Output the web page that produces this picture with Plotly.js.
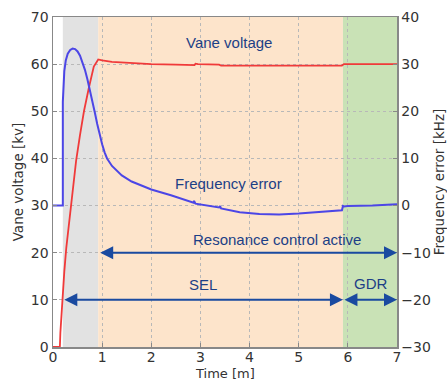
<!DOCTYPE html>
<html><head><meta charset="utf-8">
<script src="https://cdn.plot.ly/plotly-3.0.1.min.js"></script>
<style>html,body{margin:0;padding:0;background:#fff}#c{width:447px;height:380px}</style>
</head><body><div id="c"></div>
<script>
// Vane voltage [kV] (left axis)
const voltT = [0,0.14,0.15,0.17,0.2,0.23,0.27,0.32,0.37,0.42,0.47,0.55,0.63,0.73,0.83,0.92,1.0,1.2,1.5,2.0,2.5,2.88,2.9,2.95,3.38,3.42,4.0,5.0,5.88,5.92,6.5,7.0];
const voltV = [0,0,3,7,11,16,21,26,30,35,39.5,45,50,55,59.5,61,60.8,60.5,60.3,60.0,59.9,59.8,60.1,60.0,59.9,59.7,59.7,59.7,59.7,60.0,60.0,60.0];
// Frequency error [kHz] (right axis)
const freqT = [0,0.2,0.2,0.21,0.23,0.26,0.3,0.35,0.4,0.45,0.5,0.55,0.6,0.65,0.7,0.75,0.8,0.85,0.9,0.95,1.0,1.05,1.1,1.2,1.3,1.4,1.6,1.8,2.0,2.4,2.86,2.87,2.9,3.38,3.4,3.42,3.8,4.2,4.6,5.0,5.5,5.88,5.9,5.92,6.0,6.5,7.0];
const freqV = [0,0,22,25.5,28.5,30.8,32.2,33,33.3,33.2,32.7,31.8,30.5,28.8,26.8,24.6,22.2,19.8,17.3,15,13,11.3,10,8.4,7.3,6.4,5.1,4.2,3.4,2.2,0.6,1.0,0.4,-0.4,-0.1,-0.6,-1.4,-1.8,-1.9,-1.7,-1.3,-1.0,-0.1,-0.2,-0.1,0.0,0.3];
// Operating phases (time spans)
const phaseStart = [0.2, 0.92, 5.9];
const phaseEnd   = [0.92, 5.9, 7.0];
const phaseColor = ['#e2e2e2', '#fde4cb', '#c9e2b6'];
// Arrows: [x0, x1, y(left axis)]
const arrowX0 = [0.93, 0.2, 5.9];
const arrowX1 = [7.0, 5.9, 7.0];
const arrowY  = [20, 10, 10];
// Labels
const labelText = ['Vane voltage','Frequency error','Resonance control active','SEL','GDR'];
const labelX = [3.59, 3.57, 4.56, 3.05, 6.47];
const labelY = [64.6, 34.6, 22.8, 13.3, 13.5];

const navy = '#1c3f86';
const shapes = phaseStart.map((s,i)=>({type:'rect',xref:'x',yref:'paper',x0:s,x1:phaseEnd[i],y0:0,y1:1,fillcolor:phaseColor[i],line:{width:0},layer:'below'}));
const annotations = [];
arrowX0.forEach((x0,i)=>{
  annotations.push({x:arrowX1[i],y:arrowY[i],ax:x0,ay:arrowY[i],xref:'x',yref:'y',axref:'x',ayref:'y',text:'',showarrow:true,arrowside:'end+start',arrowhead:2,startarrowhead:2,arrowsize:1.3,startarrowsize:1.3,arrowwidth:2,arrowcolor:'#1a4aa0',standoff:0,startstandoff:0});
});
labelText.forEach((t,i)=>{
  annotations.push({x:labelX[i],y:labelY[i],xref:'x',yref:'y',text:t,showarrow:false,font:{family:'Liberation Sans, Arial',size:15,color:navy}});
});

const tickFont = {family:'DejaVu Sans',size:14,color:'#333'};
const titleFont = {family:'DejaVu Sans',size:13.5,color:'#333'};
annotations.push({x:0.5,y:-0.08,xref:'paper',yref:'paper',xanchor:'center',yanchor:'middle',text:'Time [m]',showarrow:false,font:{family:'DejaVu Sans',size:13,color:'#333'}});
const data = [
  {x:voltT,y:voltV,type:'scatter',mode:'lines',line:{color:'#f03a3a',width:1.8},yaxis:'y',hoverinfo:'skip'},
  {x:freqT,y:freqV,type:'scatter',mode:'lines',line:{color:'#4c46e6',width:2},yaxis:'y2',hoverinfo:'skip'}
];
const layout = {
  width:447,height:380,margin:{l:53,r:50,t:17,b:33},
  paper_bgcolor:'#fff',plot_bgcolor:'#fff',showlegend:false,
  xaxis:{range:[0,7],tickvals:[0,1,2,3,4,5,6,7],showgrid:true,gridcolor:'#b8b8b8',griddash:'dot',gridwidth:1,zeroline:false,
    showline:true,linecolor:'#888',linewidth:1.5,mirror:true,ticks:'inside',ticklen:4,tickcolor:'#888',tickfont:tickFont,ticklabelstandoff:-3},
  yaxis:{range:[0,70],tickvals:[0,10,20,30,40,50,60,70],showgrid:true,gridcolor:'#b8b8b8',griddash:'dot',gridwidth:1,zeroline:false,
    showline:true,linecolor:'#888',linewidth:1.5,ticks:'inside',ticklen:4,tickcolor:'#888',tickfont:tickFont,
    title:{text:'Vane voltage [kv]',font:titleFont,standoff:4}},
  yaxis2:{range:[-30,40],tickvals:[-30,-20,-10,0,10,20,30,40],overlaying:'y',side:'right',showgrid:false,zeroline:false,
    showline:true,linecolor:'#888',linewidth:1.5,ticks:'inside',ticklen:4,tickcolor:'#888',tickfont:tickFont,
    title:{text:'Frequency error [kHz]',font:titleFont,standoff:4}},
  shapes:shapes,annotations:annotations
};
Plotly.newPlot('c',data,layout,{staticPlot:true,displayModeBar:false});
</script></body></html>
